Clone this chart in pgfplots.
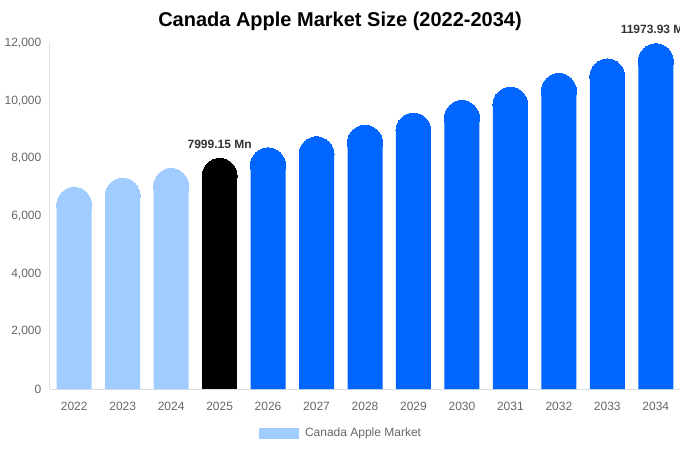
\documentclass[border=0pt]{standalone}
\usepackage{pgfplots}
\pgfplotsset{compat=1.18}
\usepackage{pgfplotstable}
\usepackage{fontspec}
\setmainfont{Liberation Sans}
\definecolor{lightb}{HTML}{A0CCFF}
\definecolor{blueb}{HTML}{0066FF}
\definecolor{tickc}{HTML}{666666}
\definecolor{labc}{HTML}{333333}
\definecolor{axc}{HTML}{DDDDDD}

\pgfplotstableread{
x v
0 6990
1 7310
2 7650
}\past
\pgfplotstableread{
x v
3 7999.15
}\base
\pgfplotstableread{
x v
4 8365
5 8749
6 9150
7 9569
8 10007
9 10466
10 10945
11 11447
12 11973.93
}\fut

\begin{document}
\begin{tikzpicture}
\begin{axis}[
  at={(0,0)}, anchor=south west,
  scale only axis,
  width=472.5pt, height=259.5pt,
  xmin=-0.5, xmax=12.5,
  ymin=0, ymax=12000,
  clip=false,
  axis x line*=bottom, axis y line*=left,
  axis line style={draw=axc, line width=0.75pt, -},
  major tick length=0pt,
  xtick={0,...,12},
  xticklabels={2022,2023,2024,2025,2026,2027,2028,2029,2030,2031,2032,2033,2034},
  ytick={0,2000,4000,6000,8000,10000,12000},
  scaled y ticks=false,
  /pgf/number format/assume math mode=true,
  /pgf/number format/1000 sep={,},
  tick label style={font=\fontsize{9pt}{11pt}\selectfont, text=tickc},
  xticklabel style={yshift=-6.5pt},
  yticklabel style={xshift=-3pt},
  legend style={at={(0.4625,-0.1272)}, anchor=center, draw=none, fill=none,
    font=\fontsize{9pt}{11pt}\selectfont, text=tickc,
    legend cell align=left, inner sep=0pt},
  legend image code/.code={\fill[lightb] (0pt,-4.125pt) rectangle (30pt,4.125pt);},
]
\addplot[ybar, bar width=26.25pt, bar shift=0pt, fill=lightb, draw=none,
  mark=*, mark size=13.125pt, mark options={fill=lightb, draw=lightb, line width=0pt}]
  table[x=x, y expr=\thisrow{v}-607] {\past};
\addlegendentry{\hspace*{2.5pt}Canada Apple Market}
\addplot[ybar, bar width=26.25pt, bar shift=0pt, fill=black, draw=none,
  mark=*, mark size=13.125pt, mark options={fill=black, draw=black, line width=0pt}, forget plot]
  table[x=x, y expr=\thisrow{v}-607] {\base};
\addplot[ybar, bar width=26.25pt, bar shift=0pt, fill=blueb, draw=none,
  mark=*, mark size=13.125pt, mark options={fill=blueb, draw=blueb, line width=0pt}, forget plot]
  table[x=x, y expr=\thisrow{v}-607] {\fut};
\addplot[draw=none, mark=none, forget plot,
  nodes near coords, point meta=explicit symbolic,
  nodes near coords style={font=\bfseries\fontsize{9pt}{11pt}\selectfont, text=labc, anchor=south, yshift=4pt}]
  coordinates {(3,7999.15)[7999.15 Mn] (12,11973.93)[11973.93 Mn]};
\end{axis}
\node[font=\bfseries\fontsize{15pt}{18pt}\selectfont, text=black] at (217.5pt,276pt) {Canada Apple Market Size (2022-2034)};
\pgfresetboundingbox
\path[use as bounding box] (-37.5pt,-45.75pt) rectangle (472.5pt,291.75pt);
\end{tikzpicture}
\end{document}
